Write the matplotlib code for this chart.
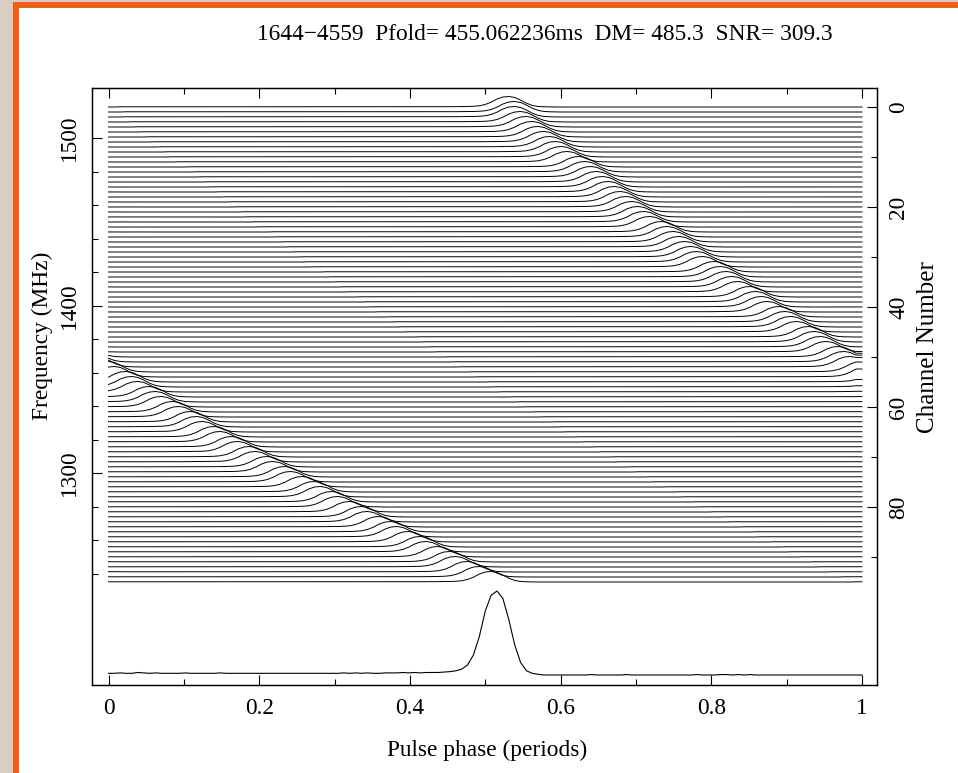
import numpy as np
import matplotlib
matplotlib.use("Agg")
import matplotlib.pyplot as plt
from matplotlib.patches import Rectangle

plt.rcParams['font.family'] = ['Liberation Serif', 'DejaVu Serif']

title_text = "1644\u22124559  Pfold= 455.062236ms  DM= 485.3  SNR= 309.3"
x_label = "Pulse phase (periods)"
y_label = "Frequency (MHz)"
y2_label = "Channel Number"

x_major = [0, 0.2, 0.4, 0.6, 0.8, 1]
x_major_labels = ["0", "0.2", "0.4", "0.6", "0.8", "1"]
x_minor = [0.1, 0.3, 0.5, 0.7, 0.9]
freq_major = [1300, 1400, 1500]
freq_minor = [1240, 1260, 1280, 1320, 1340, 1360, 1380, 1420, 1440, 1460, 1480]
chan_major = [0, 20, 40, 60, 80]
chan_minor = [10, 30, 50, 70, 90]

# summed (dedispersed) profile, 128 phase bins, peak normalised to 1
profile = [
    0.02, 0.02, 0.025, 0.02, 0.02, 0.03, 0.025, 0.02,
    0.025, 0.02, 0.02, 0.02, 0.02, 0.025, 0.02, 0.02,
    0.02, 0.02, 0.02, 0.025, 0.02, 0.02, 0.02, 0.02,
    0.02, 0.02, 0.02, 0.02, 0.02, 0.02, 0.02, 0.02,
    0.02, 0.02, 0.02, 0.02, 0.02, 0.02, 0.02, 0.02,
    0.025, 0.02, 0.025, 0.02, 0.025, 0.02, 0.02, 0.025,
    0.025, 0.025, 0.03, 0.025, 0.03, 0.025, 0.03, 0.03,
    0.03, 0.035, 0.04, 0.05, 0.07, 0.12, 0.24, 0.46,
    0.76, 0.95, 1.00, 0.91, 0.66, 0.36, 0.15, 0.05,
    0.02, 0.008, 0.0, 0.0, 0.0, 0.0, 0.0, 0.0,
    0.0, 0.0, 0.005, 0.0, 0.0, 0.0, 0.0, 0.0,
    0.005, 0.0, 0.0, 0.0, 0.0, 0.0, 0.0, 0.0,
    0.0, 0.0, 0.0, 0.0, 0.005, 0.0, 0.0, 0.0,
    0.005, 0.005, 0.0, 0.005, 0.0, 0.005, 0.0, 0.0,
    0.0, 0.0, 0.0, 0.0, 0.0, 0.0, 0.0, 0.0,
    0.0, 0.0, 0.0, 0.0, 0.0, 0.0, 0.0, 0.0,
]
profile_peak_phase = 0.517

# pulse peak phase in each of the 96 channels (channel 0 at top)
chan_peak_phase = [
    0.529, 0.537, 0.544, 0.552, 0.559, 0.567, 0.575, 0.583, 0.591, 0.599,
    0.606, 0.614, 0.623, 0.631, 0.639, 0.647, 0.655, 0.664, 0.672, 0.680,
    0.689, 0.697, 0.706, 0.714, 0.723, 0.732, 0.741, 0.749, 0.758, 0.767,
    0.776, 0.785, 0.794, 0.804, 0.813, 0.822, 0.831, 0.841, 0.850, 0.860,
    0.869, 0.879, 0.889, 0.898, 0.908, 0.918, 0.928, 0.938, 0.948, 0.958,
    0.969, 0.979, 0.989, 1.000, 0.010, 0.021, 0.031, 0.042, 0.053, 0.064,
    0.074, 0.085, 0.097, 0.108, 0.119, 0.130, 0.141, 0.153, 0.164, 0.176,
    0.188, 0.199, 0.211, 0.223, 0.235, 0.247, 0.259, 0.272, 0.284, 0.296,
    0.309, 0.321, 0.334, 0.347, 0.360, 0.373, 0.386, 0.399, 0.412, 0.425,
    0.439, 0.452, 0.466, 0.480, 0.493, 0.507,
]
chan_amp = 2.1

W, H = 958, 773
fig = plt.figure(figsize=(W / 100, H / 100), dpi=100)
fig.patch.set_facecolor('#d8cfc0')
fig.patches.append(Rectangle((19 / W, 0), 1 - 19 / W, 1 - 8 / H, transform=fig.transFigure,
                             facecolor='white', edgecolor='none', zorder=-3))
fig.patches.append(Rectangle((13 / W, 0), 6 / W, 1 - 2 / H, transform=fig.transFigure,
                             facecolor='#fb5a12', edgecolor='none', zorder=-2))
fig.patches.append(Rectangle((13 / W, 1 - 8 / H), 1 - 13 / W, 6 / H, transform=fig.transFigure,
                             facecolor='#fb5a12', edgecolor='none', zorder=-2))

left, right, top, bottom = 92, 877, 88, 685
ax = fig.add_axes([left / W, 1 - bottom / H, (right - left) / W, (bottom - top) / H])
ax.set_facecolor('white')
ax.set_xlim(-(108.5 - 92) / 753.5, 1 + (877 - 862) / 753.5)
ax.set_ylim(1500 - (685 - 138) / 1.675, 1500 + (138 - 88) / 1.675)

ax2 = ax.twinx()
ax2.set_ylim((685 - 107) / 5.0, (88 - 107) / 5.0)

nb = len(profile)
prof = np.array(profile)
xb = np.arange(nb + 1) / nb
for c, ph in enumerate(chan_peak_phase):
    shift = int(round((ph - profile_peak_phase) * nb))
    p = np.roll(prof, shift)
    p = np.append(p, p[-1])
    ax2.plot(xb, c - chan_amp * p, color='black', lw=0.7)

base_c = (675 - 107) / 5.0
sum_amp = (675 - 591) / 5.0
pp = np.append(prof, prof[-1])
ax2.plot(xb, base_c - sum_amp * pp, color='black', lw=0.8)

fs = 16.8
ax.set_xticks(x_major)
ax.set_xticklabels(x_major_labels, fontsize=fs)
ax.set_xticks(x_minor, minor=True)
ax.set_yticks(freq_major)
ax.set_yticklabels([str(v) for v in freq_major], fontsize=fs, rotation=90, va='center')
ax.set_yticks(freq_minor, minor=True)
ax.tick_params(axis='x', which='both', direction='in', top=True, bottom=True, pad=9)
ax.tick_params(axis='y', which='both', direction='in', left=True, right=False, pad=9)
ax.tick_params(which='major', length=7.5, width=0.8)
ax.tick_params(which='minor', length=4, width=0.8)

ax2.set_yticks(chan_major)
ax2.set_yticklabels([str(v) for v in chan_major], fontsize=fs, rotation=90, va='center')
ax2.set_yticks(chan_minor, minor=True)
ax2.tick_params(axis='y', which='both', direction='in', right=True, left=False, pad=8)
ax2.tick_params(which='major', length=7.5, width=0.8)
ax2.tick_params(which='minor', length=4, width=0.8)

for a in (ax, ax2):
    for s in a.spines.values():
        s.set_linewidth(0.9)

fig.text(545 / W, 1 - 35 / H, title_text, fontsize=fs, ha='center', va='center')
fig.text(487 / W, 1 - 750 / H, x_label, fontsize=fs, ha='center', va='center')
fig.text(42 / W, 1 - 336 / H, y_label, fontsize=fs, ha='center', va='center', rotation=90)
fig.text(928 / W, 1 - 347 / H, y2_label, fontsize=18, ha='center', va='center', rotation=90)

fig.savefig('out.png', dpi=100, facecolor=fig.get_facecolor())
